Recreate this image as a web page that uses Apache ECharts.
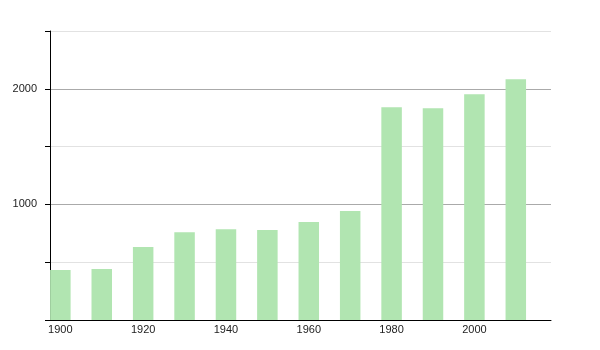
<!DOCTYPE html>
<html>
<head>
<meta charset="utf-8">
<script src="https://cdn.jsdelivr.net/npm/echarts@6/dist/echarts.min.js"></script>
<style>html,body{margin:0;padding:0;background:#fff}#c{width:600px;height:350px}</style>
</head>
<body>
<div id="c"></div>
<script>
var years = [1900, 1910, 1920, 1930, 1940, 1950, 1960, 1970, 1980, 1990, 2000, 2010];
var values = [432, 441, 631, 760, 786, 778, 847, 942, 1841, 1832, 1953, 2083];
var xTickLabels = [1900, 1920, 1940, 1960, 1980, 2000];
var yTickLabels = [1000, 2000];

var chart = echarts.init(document.getElementById('c'), null, {renderer: 'canvas'});
var data = years.map(function (y, i) { return [y, values[i]]; });
chart.setOption({
  animation: false,
  grid: {left: 50, right: 49, top: 31, bottom: 30, containLabel: false},
  xAxis: {
    type: 'value', min: 1897.5, max: 2018.5,
    axisLine: {show: true, lineStyle: {color: '#000', width: 1}},
    axisTick: {show: false},
    splitLine: {show: false},
    axisLabel: {
      customValues: xTickLabels, color: '#222', fontFamily: 'Liberation Sans',
      fontSize: 11, margin: 4, formatter: function (v) { return String(v); }
    }
  },
  yAxis: {
    type: 'value', min: 0, max: 2500, interval: 500,
    axisLine: {show: true, lineStyle: {color: '#000', width: 1}},
    axisTick: {show: true, length: 5, lineStyle: {color: '#000'}},
    splitLine: {show: true, lineStyle: {color: ['#e2e2e2', '#e2e2e2', '#aaaaaa', '#e2e2e2', '#aaaaaa', '#e2e2e2'], width: 1}},
    axisLabel: {
      color: '#222', fontFamily: 'Liberation Sans', fontSize: 11, margin: 13,
      formatter: function (v) { return yTickLabels.indexOf(v) >= 0 ? String(v) : ''; }
    }
  },
  series: [{
    type: 'bar', data: data, barWidth: 20.5,
    itemStyle: {color: '#b1e5b1'}
  }]
});
</script>
</body>
</html>
